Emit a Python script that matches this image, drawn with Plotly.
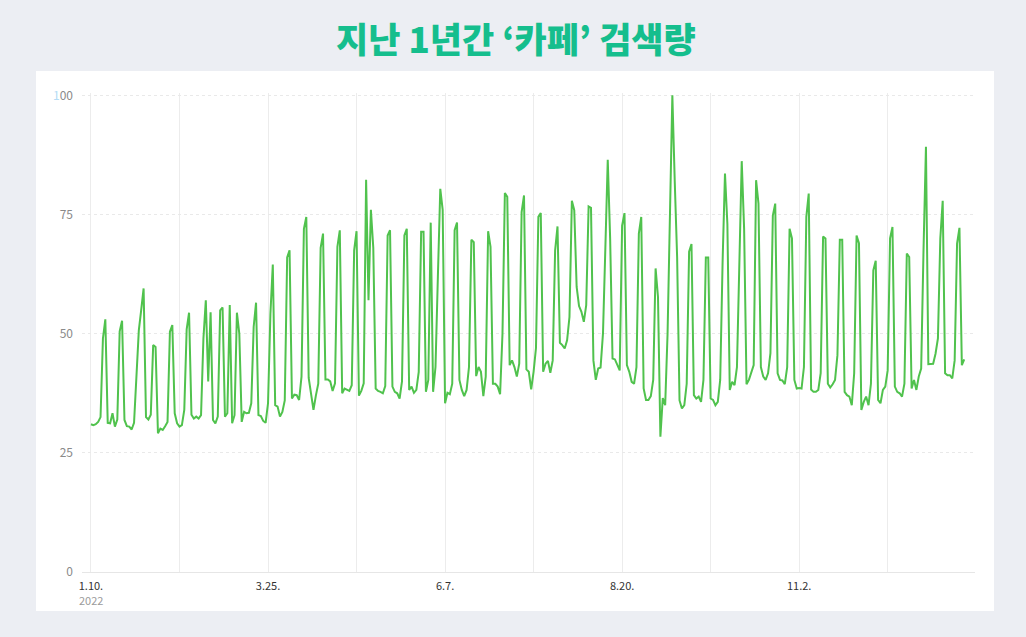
import pandas as pd
import plotly.graph_objects as go

# ---- data -------------------------------------------------------------
start_date = "2022-01-10"          # first day (Monday)
title_text = "지난 1년간 ‘카페’ 검색량"

# daily relative search volume, one row per week (Mon..Sun)
search_volume = [
    31.0, 30.8, 31.0, 31.5, 32.5, 49.0, 53.0,
    31.3, 31.2, 33.3, 30.5, 32.0, 50.5, 52.7,
    31.9, 30.6, 30.5, 29.9, 31.3, 40.3, 50.7,
    55.0, 59.5, 32.5, 32.0, 33.0, 47.6, 47.2,
    29.1, 30.1, 29.8, 30.6, 31.5, 50.4, 51.8,
    33.3, 31.2, 30.5, 30.8, 34.0, 50.9, 54.4,
    33.0, 32.2, 32.6, 32.2, 32.9, 49.0, 57.0,
    40.0, 54.5, 31.9, 31.2, 32.6, 54.9, 55.5,
    32.6, 33.3, 56.0, 31.2, 32.9, 54.4, 50.0,
    31.5, 33.6, 33.3, 33.4, 35.4, 51.4, 56.5,
    32.9, 32.7, 31.7, 31.3, 35.4, 54.2, 64.5,
    35.0, 34.7, 32.6, 33.6, 36.0, 66.0, 67.5,
    36.4, 37.2, 37.1, 36.1, 41.0, 72.0, 74.5,
    40.7, 37.0, 34.0, 37.0, 39.5, 68.0, 71.0,
    40.4, 40.4, 40.0, 38.0, 39.6, 68.2, 71.7,
    37.5, 38.5, 38.3, 38.0, 39.2, 67.5, 71.5,
    37.0, 38.0, 39.6, 82.3, 57.0, 76.0, 68.0,
    38.5, 38.0, 37.8, 37.5, 39.0, 70.6, 71.7,
    38.9, 37.8, 37.5, 36.4, 40.0, 70.6, 72.0,
    38.2, 38.9, 37.6, 38.2, 42.0, 71.4, 71.4,
    37.8, 40.3, 73.3, 37.8, 43.0, 62.0, 80.4,
    76.0, 35.4, 37.6, 37.3, 39.5, 71.7, 73.3,
    40.3, 38.2, 36.9, 38.2, 43.0, 69.7, 69.2,
    41.1, 43.0, 42.0, 36.9, 41.0, 71.5, 68.2,
    39.5, 39.5, 38.9, 37.3, 50.0, 79.5, 78.7,
    43.4, 44.4, 43.0, 41.0, 43.7, 75.5, 79.0,
    42.5, 42.0, 38.3, 42.0, 47.0, 74.5, 75.3,
    42.0, 43.7, 44.3, 41.8, 44.4, 67.5, 72.5,
    48.1, 47.6, 46.9, 48.6, 53.5, 77.9, 75.9,
    59.8, 55.8, 54.6, 52.5, 56.0, 76.7, 76.4,
    44.4, 40.3, 42.7, 42.9, 50.0, 68.0, 86.5,
    70.0, 44.8, 44.6, 43.4, 42.3, 72.7, 75.3,
    43.4, 42.0, 39.9, 39.5, 43.0, 71.0, 74.5,
    38.5, 36.1, 36.1, 36.9, 40.3, 63.7, 57.7,
    28.4, 36.5, 35.0, 50.0, 75.0, 100.0, 82.0,
    66.0, 36.0, 34.3, 35.0, 39.5, 67.2, 68.8,
    37.1, 36.4, 36.8, 35.7, 40.3, 66.0, 66.0,
    36.4, 36.1, 35.0, 35.7, 40.3, 65.0, 83.6,
    73.0, 38.2, 39.9, 39.2, 43.0, 68.0, 86.2,
    72.0, 39.4, 40.3, 42.0, 43.4, 82.2, 77.3,
    43.0, 41.0, 40.3, 41.7, 45.9, 74.8, 77.3,
    41.7, 40.3, 40.2, 39.4, 43.0, 72.0, 70.0,
    40.3, 38.5, 38.6, 38.5, 43.0, 74.5, 79.4,
    38.3, 37.8, 37.8, 38.2, 41.7, 70.4, 70.0,
    39.5, 38.7, 39.4, 40.3, 45.5, 69.7, 69.7,
    37.8, 37.1, 36.8, 35.0, 41.7, 70.6, 69.0,
    34.0, 35.7, 36.8, 35.0, 39.5, 63.3, 65.3,
    36.1, 35.4, 38.2, 38.9, 42.3, 70.0, 72.4,
    38.9, 37.8, 37.5, 36.8, 39.5, 66.8, 66.1,
    38.5, 40.3, 38.2, 41.0, 42.7, 68.0, 89.2,
    43.6, 43.7, 43.7, 45.8, 49.0, 70.0, 77.9,
    41.7, 41.3, 41.3, 40.6, 44.4, 68.9, 72.2,
    43.4, 44.6,
]

# x gridlines every 37 days, labelled every other one
grid_dates = ["2022-01-10", "2022-02-16", "2022-03-25", "2022-05-01", "2022-06-07",
              "2022-07-14", "2022-08-20", "2022-09-26", "2022-11-02", "2022-12-09"]
grid_labels = ["1.10.", "", "3.25.", "", "6.7.", "", "8.20.", "", "11.2.", ""]
year_label = "2022"
y_ticks = [0, 25, 50, 75, 100]
y_labels = ["0", "25", "50", "75", "<span style='color:#b5dcf5'>1</span>00"]

# ---- figure -----------------------------------------------------------
dates = pd.date_range(start_date, periods=len(search_volume), freq="D")

fig = go.Figure()
fig.add_trace(go.Scatter(
    x=dates, y=search_volume, mode="lines",
    line=dict(color="#50c24d", width=2),
    hoverinfo="x+y", showlegend=False,
))

W, H = 1026, 637
L, R, T, B = 82, 51, 93, 65
pw, ph = W - L - R, H - T - B

def px_x(p):
    return (p - L) / pw

def px_y(p):
    return (H - B - p) / ph

fig.add_shape(type="rect", xref="paper", yref="paper",
              x0=px_x(36), x1=px_x(994), y0=px_y(611), y1=px_y(71),
              fillcolor="white", line=dict(width=0), layer="below")

fig.add_annotation(
    text=title_text, xref="paper", yref="paper",
    x=px_x(516), y=px_y(37), xanchor="center", yanchor="middle",
    showarrow=False,
    font=dict(family="Noto Sans CJK KR", size=35, color="#15be8d", weight=900),
)

fig.add_annotation(
    text=year_label, xref="x", yref="paper",
    x=start_date, y=px_y(600), xanchor="center", yanchor="middle",
    showarrow=False,
    font=dict(family="Noto Sans CJK KR, Noto Sans, sans-serif", size=11, color="#9b9b9b"),
)

fig.update_layout(
    width=W, height=H,
    margin=dict(l=L, r=R, t=T, b=B, pad=0),
    paper_bgcolor="#eceef3",
    plot_bgcolor="white",
    font=dict(family="Noto Sans CJK KR, Noto Sans, sans-serif"),
    xaxis=dict(
        type="date",
        range=["2022-01-06 06:00", "2023-01-14 12:00"],
        tickmode="array", tickvals=grid_dates, ticktext=grid_labels,
        showgrid=True, gridcolor="#ececec", gridwidth=1,
        zeroline=False, showline=False, ticks="",
        ticklabelstandoff=6,
        tickfont=dict(size=11, color="#333333"),
        fixedrange=True,
    ),
    yaxis=dict(
        range=[0, 100.5],
        tickmode="array", tickvals=y_ticks, ticktext=y_labels,
        showgrid=True, gridcolor="#e9e9e9", gridwidth=1, griddash="dot",
        zeroline=True, zerolinecolor="#e6e6e6", zerolinewidth=1,
        showline=False, ticks="",
        ticklabelstandoff=8,
        tickfont=dict(size=12, color="#8a8a8a"),
        fixedrange=True,
    ),
)

fig.write_html(
    "out.html",
    config={"displayModeBar": False},
    post_script="document.body.style.margin='0';"
                "document.body.style.background='#eceef3';"
                "document.body.style.overflow='hidden';",
)
